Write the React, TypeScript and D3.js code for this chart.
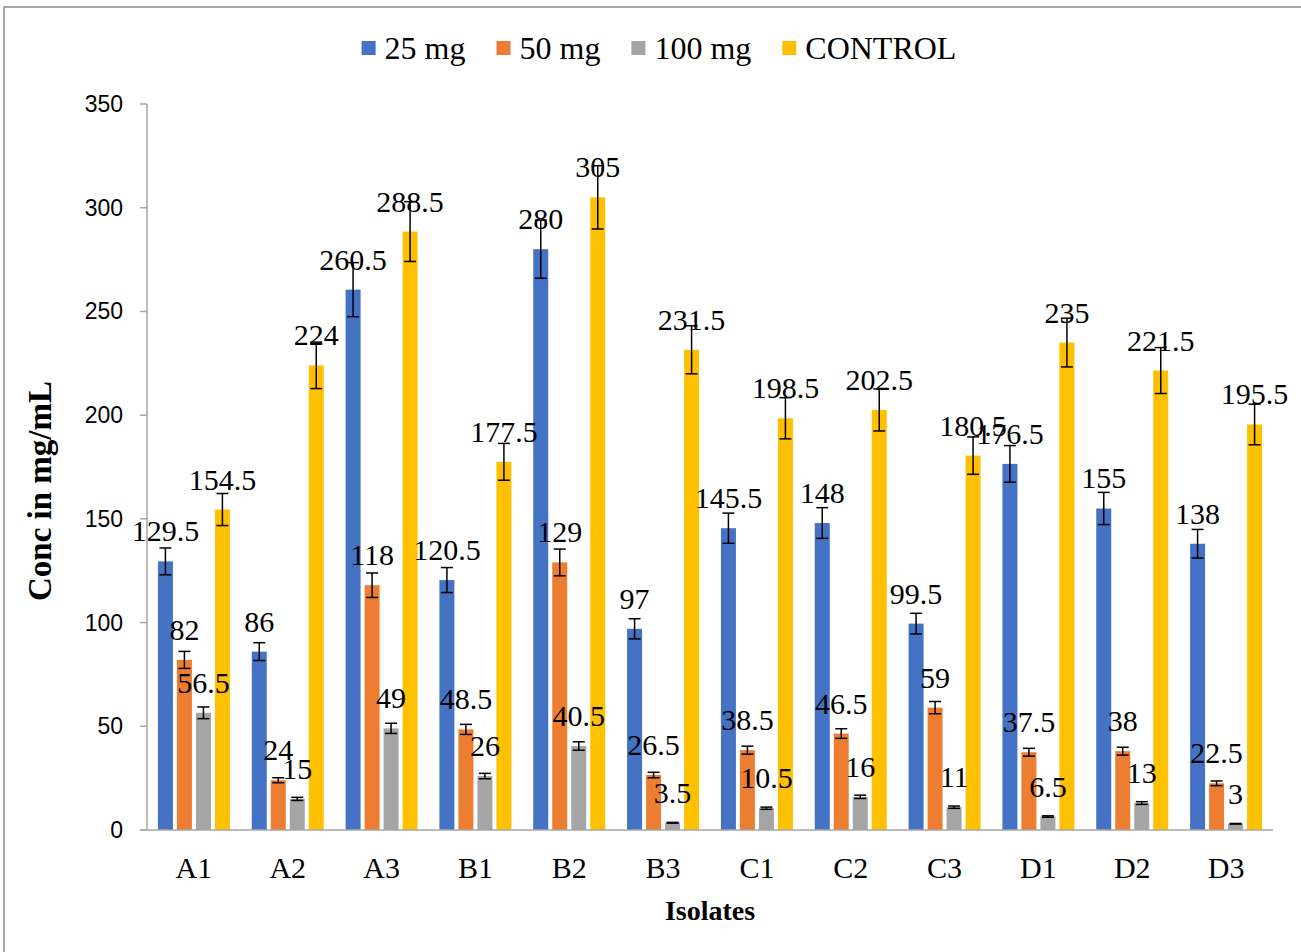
import React, { useEffect, useRef } from "react";
import * as d3 from "d3";

const categories = ["A1", "A2", "A3", "B1", "B2", "B3", "C1", "C2", "C3", "D1", "D2", "D3"];
const seriesNames = ["25 mg", "50 mg", "100 mg", "CONTROL"];
const mg25 = [129.5, 86, 260.5, 120.5, 280, 97, 145.5, 148, 99.5, 176.5, 155, 138];
const mg50 = [82, 24, 118, 48.5, 129, 26.5, 38.5, 46.5, 59, 37.5, 38, 22.5];
const mg100 = [56.5, 15, 49, 26, 40.5, 3.5, 10.5, 16, 11, 6.5, 13, 3];
const control = [154.5, 224, 288.5, 177.5, 305, 231.5, 198.5, 202.5, 180.5, 235, 221.5, 195.5];
const yTicks = [0, 50, 100, 150, 200, 250, 300, 350];
const colors = ["#4472C4", "#ED7D31", "#A5A5A5", "#FFC000"];
// excel "percentage" error bars
const errorPercent = 5;

const W = 1301;
const H = 952;
const serif = "'Liberation Serif', 'Times New Roman', serif";
const sans = "'Liberation Sans', Arial, sans-serif";

function Chart() {
  const ref = useRef<SVGSVGElement | null>(null);

  useEffect(() => {
    if (!ref.current) return;
    const svg = d3.select(ref.current);
    svg.selectAll("*").remove();

    const allSeries = [mg25, mg50, mg100, control];

    const x = d3.scaleBand<string>().domain(categories).range([147, 1273]);
    const inner = d3.scaleBand<string>().domain(seriesNames).range([-36, 36]).paddingInner(4 / 19);
    const y = d3.scaleLinear().domain([0, 350]).range([830, 104]);

    // chart border (only top/left visible)
    svg.append("path")
      .attr("d", `M4,${H} V7 H${W}`)
      .attr("fill", "none")
      .attr("stroke", "#8a8a8a")
      .attr("stroke-width", 1.5);

    // y axis
    const yAxis = svg.append("g");
    yAxis.append("line")
      .attr("x1", 147).attr("x2", 147)
      .attr("y1", y(350)).attr("y2", y(0))
      .attr("stroke", "#a6a6a6").attr("stroke-width", 1.5);
    yTicks.forEach((t) => {
      yAxis.append("line")
        .attr("x1", 140).attr("x2", 147)
        .attr("y1", y(t)).attr("y2", y(t))
        .attr("stroke", "#a6a6a6").attr("stroke-width", 1.5);
      yAxis.append("text")
        .attr("x", 123).attr("y", y(t))
        .attr("dy", "0.35em")
        .attr("text-anchor", "end")
        .attr("font-family", sans)
        .attr("font-size", 23)
        .attr("fill", "#000")
        .text(t);
    });

    // bars
    allSeries.forEach((vals, si) => {
      const g = svg.append("g");
      vals.forEach((v, ci) => {
        const cx = (x(categories[ci]) ?? 0) + x.bandwidth() / 2;
        const bx = cx + (inner(seriesNames[si]) ?? 0);
        const bw = inner.bandwidth();
        g.append("rect")
          .attr("x", bx).attr("y", y(v))
          .attr("width", bw).attr("height", y(0) - y(v))
          .attr("fill", colors[si]);
      });
    });

    // x axis line
    svg.append("line")
      .attr("x1", 140).attr("x2", 1273)
      .attr("y1", y(0)).attr("y2", y(0))
      .attr("stroke", "#a6a6a6").attr("stroke-width", 1.5);

    // error bars + labels
    allSeries.forEach((vals, si) => {
      const g = svg.append("g");
      vals.forEach((v, ci) => {
        const cx = (x(categories[ci]) ?? 0) + x.bandwidth() / 2;
        const mx = cx + (inner(seriesNames[si]) ?? 0) + inner.bandwidth() / 2;
        const e = (v * errorPercent) / 100;
        const top = y(v + e);
        const bot = y(v - e);
        g.append("line").attr("x1", mx).attr("x2", mx).attr("y1", top).attr("y2", bot)
          .attr("stroke", "#000").attr("stroke-width", 1.5);
        [top, bot].forEach((yy) => {
          g.append("line").attr("x1", mx - 6).attr("x2", mx + 6).attr("y1", yy).attr("y2", yy)
            .attr("stroke", "#000").attr("stroke-width", 1.5);
        });
      });
    });
    allSeries.forEach((vals, si) => {
      const g = svg.append("g");
      vals.forEach((v, ci) => {
        const cx = (x(categories[ci]) ?? 0) + x.bandwidth() / 2;
        const mx = cx + (inner(seriesNames[si]) ?? 0) + inner.bandwidth() / 2;
        g.append("text")
          .attr("x", mx).attr("y", y(v) - 20)
          .attr("text-anchor", "middle")
          .attr("font-family", serif)
          .attr("font-size", 30)
          .attr("fill", "#000")
          .text(String(v));
      });
    });

    // category labels
    categories.forEach((c) => {
      svg.append("text")
        .attr("x", (x(c) ?? 0) + x.bandwidth() / 2)
        .attr("y", 878)
        .attr("text-anchor", "middle")
        .attr("font-family", serif)
        .attr("font-size", 30)
        .text(c);
    });

    // axis titles
    svg.append("text")
      .attr("x", 710).attr("y", 920)
      .attr("text-anchor", "middle")
      .attr("font-family", serif)
      .attr("font-weight", "bold")
      .attr("font-size", 28)
      .text("Isolates");
    svg.append("text")
      .attr("transform", "translate(51,491) rotate(-90)")
      .attr("text-anchor", "middle")
      .attr("font-family", serif)
      .attr("font-weight", "bold")
      .attr("font-size", 33)
      .text("Conc in mg/mL");

    // legend
    const legend = svg.append("g");
    let lx = 0;
    seriesNames.forEach((name, i) => {
      const item = legend.append("g").attr("transform", `translate(${lx},0)`);
      item.append("rect").attr("x", 0).attr("y", 41).attr("width", 14).attr("height", 14).attr("fill", colors[i]);
      const t = item.append("text")
        .attr("x", 23).attr("y", 59)
        .attr("font-family", serif)
        .attr("font-size", 32)
        .text(name);
      const tw = (t.node() as SVGTextElement).getComputedTextLength();
      lx += 23 + tw + 31;
    });
    const total = lx - 31;
    legend.attr("transform", `translate(${659 - total / 2},0)`);
  }, []);

  return <svg ref={ref} width={W} height={H} style={{ display: "block", background: "#fff" }} />;
}

export default function App() {
  useEffect(() => {
    document.body.style.margin = "0";
  }, []);
  return <Chart />;
}
